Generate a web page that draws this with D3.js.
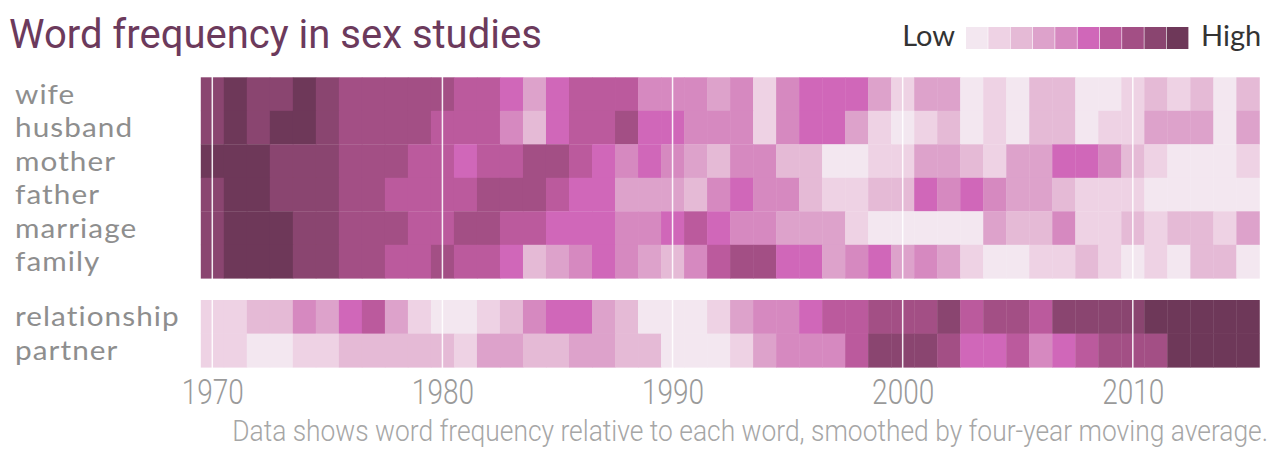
<!DOCTYPE html>
<html><head><meta charset="utf-8">
<script src="https://cdn.jsdelivr.net/npm/d3@7"></script>
<style>body{margin:0;background:#fff}svg{display:block}</style>
</head><body><svg id="c" width="1280" height="452"></svg>
<script>
// ---- data ----
const years = [1970,1971,1972,1973,1974,1975,1976,1977,1978,1979,1980,1981,1982,1983,1984,1985,1986,1987,1988,1989,
  1990,1991,1992,1993,1994,1995,1996,1997,1998,1999,2000,2001,2002,2003,2004,2005,2006,2007,2008,2009,
  2010,2011,2012,2013,2014,2015];
const topWords = ["wife","husband","mother","father","marriage","family"];
const bottomWords = ["relationship","partner"];
// colour level (0 = low ... 9 = high) per year
const wife =         [8,9,8,8,9,8,7,7,7,7,7,6, 6,5,3,5,6,6,6,4,4,4,3,4, 1,4,5,5,5,3,1,3,3,0,1, 0,2,2,0,0,1,2,1,2,0,2];
const husband =      [8,9,8,9,9,8,7,7,7,7,6,6, 6,4,2,5,6,6,7,5,5,4,4,4, 1,4,5,5,3,1,0,1,2,0,1, 0,2,2,0,1,1,3,3,3,0,3];
const mother =       [9,9,9,8,8,8,7,7,7,6,6,5, 6,6,7,7,6,5,4,5,4,3,2,4, 4,2,2,0,0,1,1,3,3,2,1, 3,3,5,5,4,2,1,0,0,0,1];
const father =       [8,9,9,8,8,8,7,7,6,6,6,6, 7,7,7,6,5,5,3,3,3,2,4,5, 4,4,2,1,1,2,2,5,4,5,4, 3,3,2,1,1,1,0,0,0,0,0];
const marriage =     [8,9,9,9,8,8,7,7,7,6,6,7, 7,6,6,5,5,5,4,4,5,6,5,4, 4,3,3,3,1,0,0,0,0,0,3, 2,2,4,1,1,2,1,2,2,1,3];
const family =       [8,9,9,9,8,8,7,7,6,6,7,6, 6,5,2,3,4,5,4,3,2,4,6,7, 7,5,5,3,4,5,3,4,3,1,0, 0,1,1,2,1,0,1,0,2,2,0];
const relationship = [1,1,2,2,4,3,5,6,3,1,0,0, 1,2,4,5,5,3,2,0,0,0,1,3, 4,4,5,6,6,7,7,7,8,6,7, 7,6,8,8,8,8,9,9,9,9,9];
const partner =      [1,1,0,0,1,1,2,2,2,2,2,1, 3,3,2,2,3,3,2,2,0,0,0,1, 3,4,4,4,6,8,8,8,7,5,5, 6,4,5,6,7,7,7,9,9,9,9];
const tickYears = [1970,1980,1990,2000,2010];
const levels = [0,1,2,3,4,5,6,7,8,9];
const palette = ["#f3e7f0","#eed2e4","#e5bad6","#dda2cb","#d689c0","#d067b9","#bb5a9d","#a34f85","#8a4570","#6e3859"];
const titleText = "Word frequency in sex studies";
const noteText = "Data shows word frequency relative to each word, smoothed by four-year moving average.";

const series = {wife, husband, mother, father, marriage, family, relationship, partner};

// ---- chart ----
const svg = d3.select("#c");
const color = d3.scaleOrdinal().domain(levels).range(palette);
const x = d3.scaleLinear().domain([1970, 2010]).range([212.3, 1132.8]);
const yTop = d3.scaleBand().domain(topWords).range([77.3, 278.3]);
const yBot = d3.scaleBand().domain(bottomWords).range([300, 367.3]);

function drawGroup(words, yScale) {
  const g = svg.append("g");
  words.forEach(w => {
    g.selectAll(null).data(series[w].map((v, i) => ({year: years[i], v})))
      .enter().append("rect")
      .attr("x", d => x(d.year - 0.5))
      .attr("width", d => x(d.year + 0.5) - x(d.year - 0.5) + 0.4)
      .attr("y", yScale(w))
      .attr("height", yScale.bandwidth() + 0.3)
      .attr("fill", d => color(d.v));
  });
  svg.append("g").selectAll("text").data(words).enter().append("text")
    .attr("transform", d => `translate(15,${yScale(d) + yScale.bandwidth() / 2}) scale(1.08,1)`)
    .attr("dy", "0.35em")
    .style("font-family", "Lato, 'Open Sans', sans-serif")
    .style("font-size", "27.5px").style("letter-spacing", "1px").style("fill", "#8e8e8e")
    .text(d => d);
}
drawGroup(topWords, yTop);
drawGroup(bottomWords, yBot);

// gridlines
svg.append("g").selectAll("line").data(tickYears).enter().append("line")
  .attr("x1", d => x(d)).attr("x2", d => x(d))
  .attr("y1", 72).attr("y2", 374)
  .attr("stroke", "#fff").attr("stroke-width", 1.5).attr("stroke-opacity", 0.9);

// x axis
const ax = svg.append("g").attr("transform", "translate(0,377)")
  .call(d3.axisBottom(x).tickValues(tickYears).tickFormat(d3.format("d")).tickSize(0).tickPadding(2));
ax.select(".domain").remove();
ax.selectAll("text")
  .style("font-family", "Roboto, sans-serif").style("font-weight", 300)
  .style("font-size", "35px").style("fill", "#9a9a9a")
  .attr("transform", "scale(0.8,1)");

// title
svg.append("text").attr("x", 9).attr("y", 48)
  .style("font-family", "Roboto, sans-serif").style("font-size", "40px")
  .style("fill", "#6c3a5c").text(titleText);

// footnote
svg.append("text").attr("transform", "translate(1268,441) scale(0.91,1)")
  .attr("text-anchor", "end")
  .style("font-family", "Roboto, sans-serif").style("font-weight", 300)
  .style("font-size", "29px").style("fill", "#a6a6a6").text(noteText);

// legend
const lx = d3.scaleBand().domain(levels).range([966, 1189]);
const lg = svg.append("g");
lg.selectAll("rect").data(levels).enter().append("rect")
  .attr("x", d => lx(d)).attr("width", lx.bandwidth() - 0.6)
  .attr("y", 27).attr("height", 22).attr("fill", d => color(d));
lg.append("text").attr("x", 955).attr("y", 46).attr("text-anchor", "end")
  .style("font-family", "Lato, sans-serif").style("font-size", "29px").style("fill", "#333").text("Low");
lg.append("text").attr("x", 1201).attr("y", 46)
  .style("font-family", "Lato, sans-serif").style("font-size", "29px").style("fill", "#333").text("High");
</script></body></html>
